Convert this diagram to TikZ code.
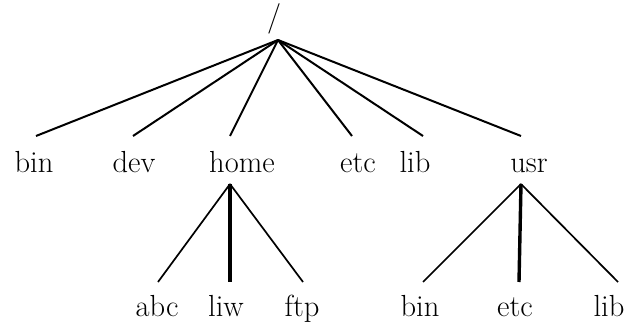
\documentclass[tikz,border=0pt]{standalone}
\usepackage{tikz}

\begin{document}
\begin{tikzpicture}[
	x=1pt,y=-1pt,
	thick,
	dir node/.style={anchor=base,inner sep=0pt,font=\fontsize{30.5}{36}\selectfont},
	top edge/.style={line width=2pt},
	sub edge/.style={line width=1.7pt},
	mid edge/.style={line width=3.4pt}
]
\useasboundingbox (0,0) rectangle (626,326);

\node[dir node] (slash) at (274,27) {/};
\coordinate (top) at (278,40);

\node[dir node] (bin) at (34,172) {bin};
\node[dir node] (dev) at (134,172) {dev};
\node[dir node] (home) at (242,172) {home};
\node[dir node] (etc) at (358,172) {etc};
\node[dir node] (lib) at (415,172) {lib};
\node[dir node] (usr) at (529,172) {usr};

\node[dir node] (abc) at (157,316) {abc};
\node[dir node] (liw) at (226,316) {liw};
\node[dir node] (ftp) at (302,316) {ftp};
\node[dir node] (ubin) at (420,316) {bin};
\node[dir node] (uetc) at (515,316) {etc};
\node[dir node] (ulib) at (609,316) {lib};

%\node[dir node] (ftp) [right of=liw] {ftp};

\path[top edge]
(top) edge ([shift={(2,-36)}]bin.base)
(top) edge ([shift={(-1,-36)}]dev.base)
(top) edge ([shift={(-12,-36)}]home.base)
(top) edge ([shift={(-6,-36)}]etc.base)
(top) edge ([shift={(8,-36)}]lib.base)
(top) edge ([shift={(-8,-36)}]usr.base)
;

\path[sub edge]
([shift={(-12,12)}]home.base) edge ([shift={(1,-34)}]abc.base)
([shift={(-12,12)}]home.base) edge ([shift={(1,-34)}]ftp.base)
([shift={(-8,12)}]usr.base) edge ([shift={(3,-34)}]ubin.base)
([shift={(-8,12)}]usr.base) edge ([shift={(9,-34)}]ulib.base)
;
\path[mid edge]
([shift={(-12,12)}]home.base) edge ([shift={(4,-34)}]liw.base)
([shift={(-8,12)}]usr.base) edge ([shift={(4,-34)}]uetc.base)
;
\end{tikzpicture}
\end{document}
